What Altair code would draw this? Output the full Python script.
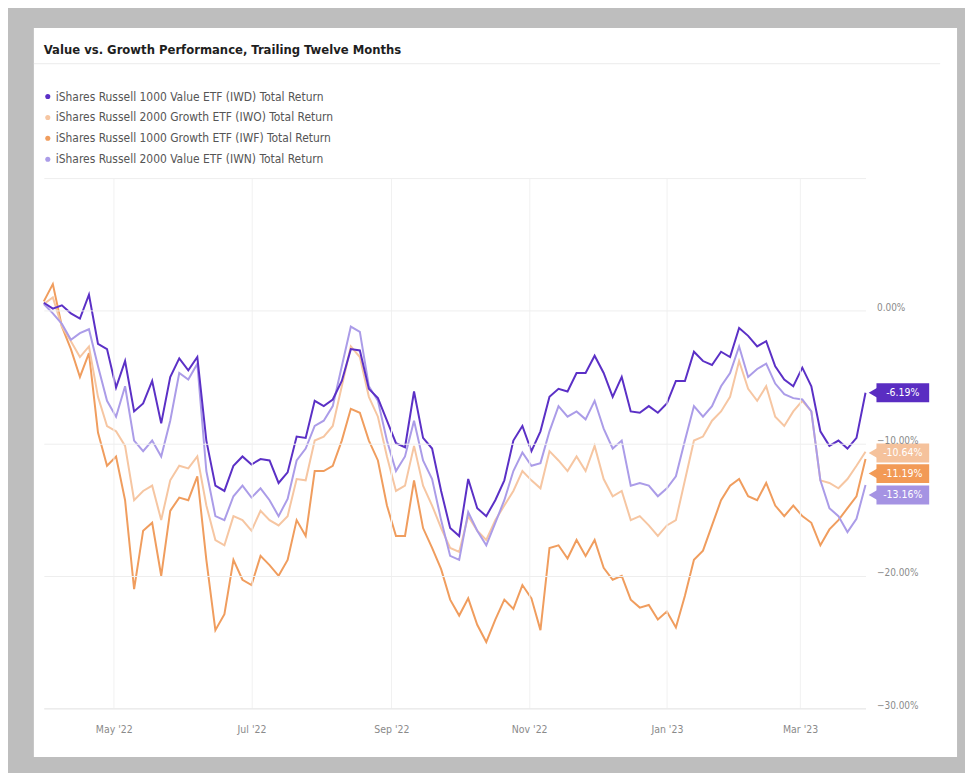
import altair as alt
import pandas as pd

# ---------------- data ----------------
START_DATE = "2022-03-31"
N_POINTS = 92          # one reading every 4 calendar days, 2022-03-31 .. 2023-03-30

SERIES = [
    "iShares Russell 1000 Value ETF (IWD) Total Return",
    "iShares Russell 2000 Growth ETF (IWO) Total Return",
    "iShares Russell 1000 Growth ETF (IWF) Total Return",
    "iShares Russell 2000 Value ETF (IWN) Total Return",
]

IWD = [0.6, 0.15, 0.4, -0.2, -0.6, 1.2, -2.5, -2.9, -5.8, -3.8,
       -7.6, -7.0, -5.3, -8.5, -5.0, -3.6, -4.5, -3.5, -9.8, -13.2,
       -13.6, -11.7, -11.0, -11.6, -11.2, -11.3, -13.0, -12.2, -9.5, -9.6,
       -6.8, -7.2, -6.7, -5.3, -2.9, -3.0, -5.9, -6.6, -8.3, -10.0,
       -10.3, -6.1, -9.6, -10.4, -13.6, -16.4, -17.0, -12.7, -14.9, -15.5,
       -14.3, -12.8, -9.8, -8.7, -10.6, -9.1, -6.5, -5.9, -6.1, -4.7,
       -4.7, -3.4, -4.7, -6.5, -5.0, -7.6, -7.7, -7.2, -7.7, -7.0,
       -5.3, -5.3, -3.1, -3.8, -4.1, -3.1, -3.5, -1.3, -1.9, -2.7,
       -2.3, -4.2, -5.2, -5.7, -4.3, -5.7, -9.1, -10.2, -9.8, -10.4,
       -9.6, -6.19]

IWO = [0.5, 1.0, -1.2, -2.3, -3.5, -2.7, -6.5, -8.7, -9.1, -10.2,
       -14.3, -13.6, -13.2, -15.8, -12.8, -11.7, -11.9, -11.0, -14.7, -17.3,
       -17.7, -15.5, -15.8, -16.6, -15.1, -15.8, -16.2, -15.5, -12.7, -12.8,
       -9.8, -9.5, -8.7, -5.7, -2.7, -3.5, -6.5, -8.0, -11.0, -13.6,
       -13.2, -10.2, -13.2, -14.7, -16.4, -17.9, -18.2, -15.5, -16.6, -17.3,
       -15.8, -14.7, -13.6, -12.1, -12.8, -13.4, -10.6, -11.3, -12.1, -11.0,
       -12.1, -10.2, -12.7, -14.0, -13.6, -15.8, -15.5, -16.2, -17.0, -16.2,
       -15.8, -12.8, -9.8, -9.5, -8.3, -7.6, -6.5, -3.8, -5.9, -6.8,
       -5.7, -8.0, -8.7, -7.6, -6.8, -7.6, -12.8, -13.0, -13.4, -12.7,
       -11.7, -10.64]

IWF = [0.7, 2.0, -1.2, -2.9, -5.0, -3.2, -9.2, -11.7, -11.0, -14.3,
       -21.0, -16.6, -16.0, -20.0, -15.1, -14.1, -14.3, -12.5, -18.8, -24.1,
       -22.9, -18.8, -20.3, -20.7, -18.5, -19.2, -20.0, -18.8, -15.8, -17.0,
       -12.1, -12.1, -11.7, -9.8, -7.4, -7.7, -9.8, -11.3, -14.7, -17.0,
       -17.0, -12.8, -16.4, -17.9, -19.5, -21.8, -23.0, -21.7, -23.7, -25.0,
       -23.3, -21.8, -22.5, -20.7, -21.7, -24.1, -17.9, -17.7, -18.7, -17.3,
       -18.5, -17.3, -19.4, -20.3, -20.0, -21.8, -22.4, -22.2, -23.3, -22.7,
       -23.9, -21.5, -18.8, -18.1, -16.2, -14.3, -13.2, -12.7, -14.0, -14.3,
       -13.0, -14.7, -15.5, -14.7, -15.5, -16.0, -17.7, -16.5, -15.8, -14.9,
       -14.0, -11.19]

IWN = [0.5, -0.2, -1.0, -2.2, -1.7, -1.4, -4.2, -6.8, -8.0, -5.7,
       -9.8, -10.6, -9.8, -11.0, -8.3, -4.7, -5.2, -4.0, -12.1, -15.5,
       -15.8, -14.0, -13.2, -14.1, -13.4, -14.3, -15.5, -14.2, -11.3, -10.4,
       -8.7, -8.3, -7.2, -4.2, -1.2, -1.6, -5.7, -6.8, -9.8, -12.1,
       -11.0, -8.3, -11.3, -12.7, -15.8, -18.5, -18.8, -15.2, -16.6, -17.7,
       -16.0, -14.3, -12.1, -10.7, -11.7, -11.5, -9.1, -7.2, -8.0, -7.6,
       -8.2, -6.8, -8.9, -10.4, -9.8, -13.2, -13.0, -13.2, -14.0, -13.4,
       -12.5, -9.8, -7.2, -8.0, -7.2, -5.7, -4.7, -2.7, -5.0, -4.4,
       -4.0, -5.5, -6.3, -6.6, -6.7, -7.6, -12.8, -14.9, -15.5, -16.7,
       -15.7, -13.16]

VALUES = [IWD, IWO, IWF, IWN]
TAG_LABELS = ["-6.19%", "-10.64%", "-11.19%", "-13.16%"]
Y_TICKS = [-30, -20, -10, 0, 10]
TITLE = "Value vs. Growth Performance, Trailing Twelve Months"

# ---------------- style ----------------
LINE_COLORS = ["#5b30c6", "#f6c6a2", "#f09d5e", "#ab9ce8"]
TAG_COLORS = ["#5a2dc2", "#f5c29c", "#f29a56", "#a593e3"]
TAG_NUDGE = [0.0, -0.1, -1.1, -0.75]   # vertical de-overlap of end tags (% units)
DRAW_ORDER = [2, 1, 3, 0]
COND = "DejaVu Sans Condensed, Roboto, sans-serif"
W, H = 826, 533

dates = pd.date_range(START_DATE, periods=N_POINTS, freq="4D")

rows = []
for k in DRAW_ORDER:
    for d, v in zip(dates, VALUES[k]):
        rows.append({"date": d, "value": v, "series": SERIES[k]})
df = pd.DataFrame(rows)

# end tags: "value" holds the tag's (de-overlapped) position, "end" the true last value
tags = pd.DataFrame({
    "date": [dates[-1]] * 4,
    "end": [VALUES[k][-1] for k in range(4)],
    "label": TAG_LABELS,
    "color": TAG_COLORS,
    "series": SERIES,
})
tags["value"] = tags["end"] + pd.Series(TAG_NUDGE)

x_dom = [alt.DateTime(year=2022, month=3, date=31), alt.DateTime(year=2023, month=3, date=30)]
x_ticks = [alt.DateTime(year=2022, month=5, date=1), alt.DateTime(year=2022, month=7, date=1),
           alt.DateTime(year=2022, month=9, date=1), alt.DateTime(year=2022, month=11, date=1),
           alt.DateTime(year=2023, month=1, date=1), alt.DateTime(year=2023, month=3, date=1)]

one = pd.DataFrame({"t": [TITLE]})

# filled-dot legend (its own points are hidden beneath the white panel)
legend_layer = alt.Chart(tags).mark_circle(size=20, opacity=1).encode(
    x="date:T", y="value:Q",
    fill=alt.Fill("series:N", scale=alt.Scale(domain=SERIES, range=LINE_COLORS),
                  legend=alt.Legend(orient="none", legendX=-2, legendY=-88, title=None,
                                    symbolType="circle", symbolSize=26,
                                    symbolStrokeWidth=0, symbolOpacity=1,
                                    labelFontSize=12, labelFont=COND,
                                    labelColor="#555555", rowPadding=9, labelOffset=2,
                                    padding=0, labelLimit=400)))

panel = alt.Chart(one).mark_rect(color="white").encode(
    x=alt.value(-10), x2=alt.value(918), y=alt.value(-151), y2=alt.value(582))

title_rule = alt.Chart(one).mark_rule(color="#ebebeb", strokeWidth=1).encode(
    x=alt.value(-10), x2=alt.value(901), y=alt.value(-115))

title = alt.Chart(one).mark_text(align="left", baseline="middle", fontSize=13,
                                 fontWeight="bold", font=COND, color="#1e1e1e").encode(
    x=alt.value(0), y=alt.value(-129), text="t:N")

lines = alt.Chart(df).mark_line(strokeWidth=2, interpolate="linear").encode(
    x=alt.X("date:T", scale=alt.Scale(domain=x_dom),
            axis=alt.Axis(values=x_ticks, format="%b '%y", title=None, ticks=False,
                          domainColor="#e8e8e8", labelPadding=16, labelFontSize=10.5,
                          labelColor="#8a8a8a", labelFont=COND, gridColor="#f1f1f1",
                          zindex=1)),
    y=alt.Y("value:Q", scale=alt.Scale(domain=[-30, 10], nice=False, zero=False),
            axis=alt.Axis(orient="right", values=Y_TICKS, title=None, domain=False,
                          ticks=False, labelPadding=11, labelAlign="left",
                          labelBaseline="middle", labelOffset=-3, labelFontSize=10,
                          labelColor="#8a8a8a", labelFont=COND, gridColor="#eeeeee",
                          zindex=1,
                          labelExpr="datum.value >= 10 ? '' : format(datum.value, '.2f') + '%'")),
    color=alt.Color("series:N", scale=alt.Scale(domain=SERIES, range=LINE_COLORS),
                    legend=None),
    detail="series:N",
)

tag_box = alt.Chart(tags).mark_rect(xOffset=11, x2Offset=64, yOffset=-9.5, y2Offset=9.5).encode(
    x="date:T", x2="date",
    y="value:Q", y2="value",
    color=alt.Color("color:N", scale=None))

tag_arrow = alt.Chart(tags).mark_point(shape="triangle-left", filled=True, size=100,
                                       opacity=1, xOffset=7.5).encode(
    x="date:T", y="value:Q",
    color=alt.Color("color:N", scale=None))

tag_text = alt.Chart(tags).mark_text(align="center", baseline="middle", fontSize=10.5,
                                     font=COND, color="white", xOffset=37.5).encode(
    x="date:T", y="value:Q", text="label:N")

chart = alt.layer(legend_layer, panel, title_rule, title, lines, tag_box, tag_arrow,
                  tag_text).properties(
    width=W, height=H,
    autosize=alt.AutoSizeParams(type="none"),
    padding={"left": 36, "top": 169, "right": 100, "bottom": 63},
    background="#bebebe",
).configure_view(stroke=None)

chart.save("out.html", embed_options={"renderer": "svg", "actions": False})
